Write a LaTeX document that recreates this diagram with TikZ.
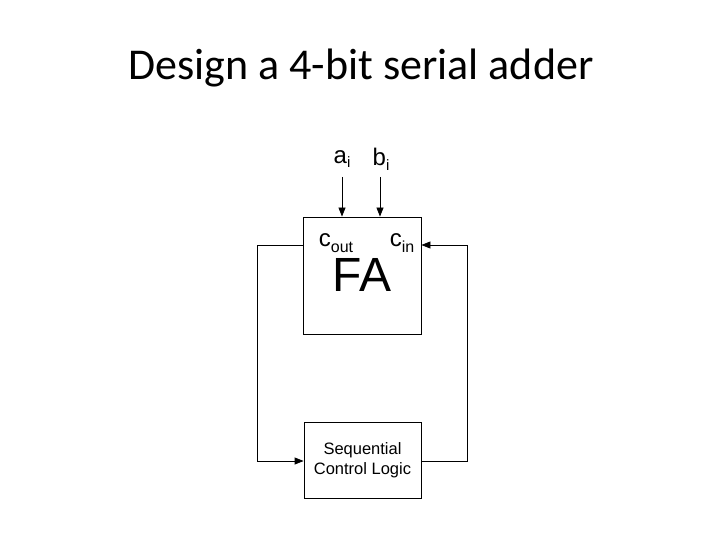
\documentclass[tikz,border=0pt]{standalone}
\usepackage{fontspec}
\setmainfont{Liberation Sans}
\newfontfamily\titlefont{Carlito}
\usetikzlibrary{arrows.meta}
\begin{document}
\begin{tikzpicture}[x=1pt,y=-1pt,
  blk/.style={draw,line width=0.8pt,inner sep=0pt},
  conn/.style={line width=0.8pt},
  arr/.style={conn,-{Triangle[length=9pt,width=7pt]}}]
\useasboundingbox (0,0) rectangle (720,540);
\node[font=\titlefont\fontsize{44}{48}\selectfont] (title) at (361,68) {Design a 4-bit serial adder};
\node[blk,minimum width=118pt,minimum height=117pt] (fa) at (362,275.5) {};
\node[font=\fontsize{48}{52}\selectfont,inner sep=0pt] (falbl) at (362,275) {FA};
\node[font=\fontsize{24}{26}\selectfont,inner sep=1pt] (cout) at (336,243) {c\raisebox{-0.25em}{\fontsize{16}{16}\selectfont out}};
\node[font=\fontsize{24}{26}\selectfont,inner sep=1pt] (cin) at (402,243) {c\raisebox{-0.25em}{\fontsize{16}{16}\selectfont in}};
\node[font=\fontsize{24}{26}\selectfont] (a) at (342,159) {a\raisebox{-0.2em}{\fontsize{15}{15}\selectfont i}};
\node[font=\fontsize{24}{26}\selectfont] (b) at (381,159) {b\raisebox{-0.2em}{\fontsize{15}{15}\selectfont i}};
\node[blk,minimum width=117pt,minimum height=76pt,align=center,font=\fontsize{16.5}{20}\selectfont] (scl) at (362.5,460) {Sequential\\Control Logic};
\coordinate (at) at (342,177);
\coordinate (bt) at (380,177);
\draw[arr] (at) -- (at |- fa.north);
\draw[arr] (bt) -- (bt |- fa.north);
\coordinate (l1) at (257,245);
\coordinate (l2) at (257,461);
\coordinate (r1) at (467,461);
\coordinate (r2) at (467,245);
\draw[arr] (fa.west |- l1) -- (l1) -- (l2) -- (scl.west |- l2);
\draw[arr] (scl.east |- r1) -- (r1) -- (r2) -- (fa.east |- r2);
\end{tikzpicture}
\end{document}
